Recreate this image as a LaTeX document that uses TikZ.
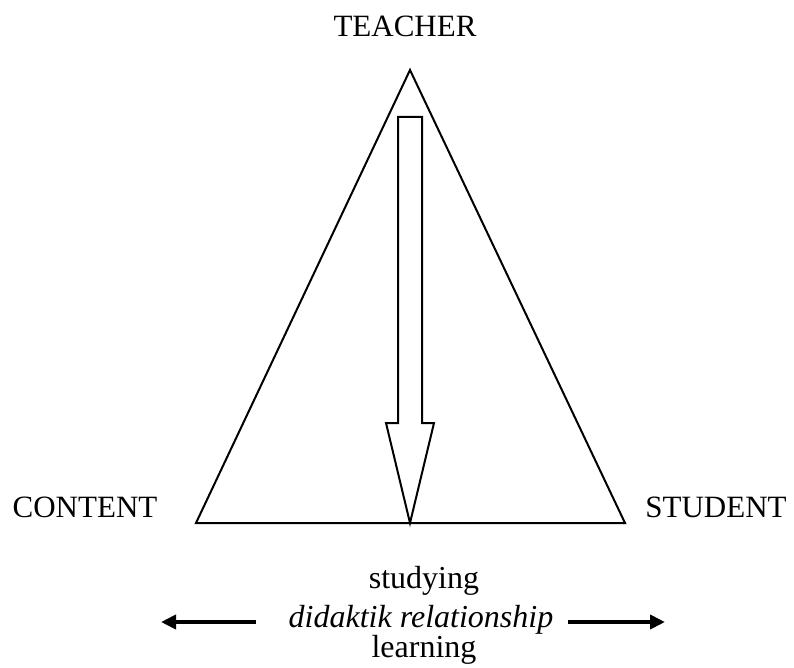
\documentclass[tikz,border=0pt]{standalone}
\usepackage{fontspec}
\setmainfont{Liberation Serif}
\usetikzlibrary{arrows.meta}
\begin{document}
\begin{tikzpicture}[x=1pt,y=-1pt,
  lbl/.style={font=\fontsize{32}{38}\selectfont, inner sep=0pt, anchor=base},
  caplbl/.style={font=\fontsize{31}{37}\selectfont, inner sep=0pt, anchor=base},
  edge/.style={line width=2pt, line join=miter},
  bigarrow/.style={line width=4pt, -{Triangle[length=15pt,width=14pt]}}]
\useasboundingbox (0,0) rectangle (794,668);
\coordinate (apex) at (410,70);
\coordinate (bl) at (196,523);
\coordinate (br) at (625,523);
\draw[edge] (apex) -- (br) -- (bl) -- cycle;
\draw[edge] (398,117) -- (422,117) -- (422,423) -- (434,423) -- (410,523) -- (386,423) -- (398,423) -- cycle;
\node[caplbl] (teacher) at (405,37) {TEACHER};
\node[caplbl] (content) at (85,517) {CONTENT};
\node[caplbl] (student) at (716,517) {STUDENT};
\node[lbl] (studying) at (424,588) {studying};
\node[lbl] (didaktik) at (421,627) {\itshape didaktik relationship};
\node[lbl] (learning) at (424,657) {learning};
\coordinate (la) at (256,622);
\coordinate (lb) at (161,622);
\coordinate (ra) at (568,622);
\coordinate (rb) at (665,622);
\draw[bigarrow] (la) -- (lb);
\draw[bigarrow] (ra) -- (rb);
\end{tikzpicture}
\end{document}
